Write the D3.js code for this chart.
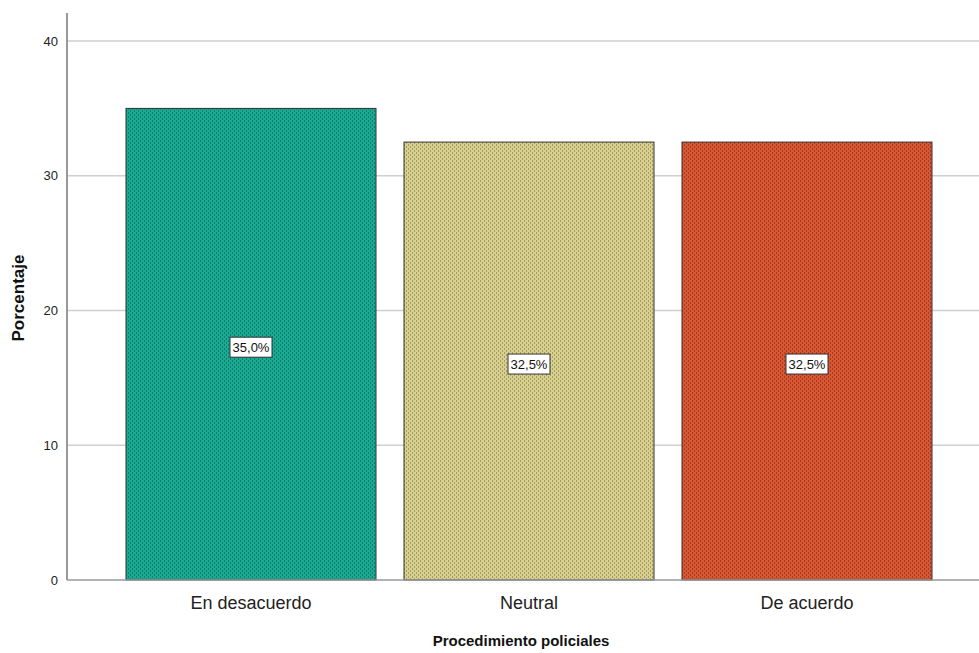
<!DOCTYPE html>
<html lang="es">
<head>
    <meta charset="UTF-8">
    <title>Procedimiento policiales</title>
    <script src="https://d3js.org/d3.v7.min.js"></script>
</head>
<style>
    body {
        margin: 0;
        background: #fff;
    }
    svg {
        display: block;
        font-family: Arial, "Liberation Sans", sans-serif;
    }
</style>
<body>
<div class="chart"></div>
<script>
  /** data */
  var categories = ['En desacuerdo', 'Neutral', 'De acuerdo'];
  var percentages = [35.0, 32.5, 32.5];
  var labels = ['35,0%', '32,5%', '32,5%'];
  var yTicks = [0, 10, 20, 30, 40];

  var baseColors = ['#1aab95', '#d8d08e', '#dc5634'];
  var dotColors = ['#0f7d6b', '#a39b62', '#9c3c22'];

  var width = 979, height = 653;

  var svg = d3.select('.chart').append('svg')
    .attr('width', width)
    .attr('height', height);

  /** scales */
  var x = d3.scaleBand()
    .domain(categories)
    .range([112, 946])
    .paddingInner(28 / 278)
    .paddingOuter(14 / 278);

  var y = d3.scaleLinear()
    .domain([0, 42.08])
    .range([580, 13]);

  /** fill patterns, one per bar */
  var defs = svg.append('defs');
  categories.forEach(function (c, i) {
    var p = defs.append('pattern')
      .attr('id', 'pat' + i)
      .attr('patternUnits', 'userSpaceOnUse')
      .attr('width', 4)
      .attr('height', 4);
    p.append('rect').attr('width', 4).attr('height', 4).attr('fill', baseColors[i]);
    p.append('rect').attr('x', 0).attr('y', 0).attr('width', 1).attr('height', 2).attr('fill', dotColors[i]);
    p.append('rect').attr('x', 2).attr('y', 2).attr('width', 1).attr('height', 2).attr('fill', dotColors[i]);
  });

  /** grid lines */
  svg.append('g')
    .selectAll('line')
    .data(yTicks.filter(function (d) { return d > 0; }))
    .enter().append('line')
    .attr('x1', 67)
    .attr('x2', width)
    .attr('y1', function (d) { return y(d); })
    .attr('y2', function (d) { return y(d); })
    .attr('stroke', '#cfcfcf')
    .attr('stroke-width', 1.5);

  /** y axis */
  var yAxis = svg.append('g')
    .attr('transform', 'translate(67,0)')
    .call(d3.axisLeft(y).tickValues(yTicks).tickSize(0).tickPadding(9));
  yAxis.select('.domain').remove();
  yAxis.selectAll('text')
    .attr('font-size', 13)
    .attr('fill', '#222')
    .attr('font-family', 'Arial, "Liberation Sans", sans-serif');

  svg.append('line')
    .attr('x1', 67).attr('x2', 67)
    .attr('y1', 13).attr('y2', 580)
    .attr('stroke', '#999')
    .attr('stroke-width', 2);

  /** bars */
  svg.append('g')
    .selectAll('rect')
    .data(percentages)
    .enter().append('rect')
    .attr('x', function (d, i) { return x(categories[i]); })
    .attr('y', function (d) { return y(d); })
    .attr('width', x.bandwidth())
    .attr('height', function (d) { return y(0) - y(d); })
    .attr('fill', function (d, i) { return 'url(#pat' + i + ')'; })
    .attr('stroke', '#333')
    .attr('stroke-width', 1);

  /** x axis line */
  svg.append('line')
    .attr('x1', 67).attr('x2', width)
    .attr('y1', 580).attr('y2', 580)
    .attr('stroke', '#999')
    .attr('stroke-width', 1.5);

  /** category labels */
  var xAxis = svg.append('g')
    .attr('transform', 'translate(0,580)')
    .call(d3.axisBottom(x).tickSize(0).tickPadding(16));
  xAxis.select('.domain').remove();
  xAxis.selectAll('text')
    .attr('font-size', 18)
    .attr('fill', '#222')
    .attr('font-family', 'Arial, "Liberation Sans", sans-serif');

  /** value labels in boxes */
  var valueLabel = svg.append('g')
    .selectAll('g')
    .data(percentages)
    .enter().append('g')
    .attr('transform', function (d, i) {
      return 'translate(' + (x(categories[i]) + x.bandwidth() / 2) + ',' + ((y(d) + y(0)) / 2 + 3) + ')';
    });
  valueLabel.append('rect')
    .attr('x', -21)
    .attr('y', -10)
    .attr('width', 42)
    .attr('height', 20)
    .attr('fill', '#fff')
    .attr('stroke', '#333')
    .attr('stroke-width', 1);
  valueLabel.append('text')
    .attr('text-anchor', 'middle')
    .attr('dy', '0.36em')
    .attr('font-size', 13)
    .attr('fill', '#111')
    .text(function (d, i) { return labels[i]; });

  /** axis titles */
  svg.append('text')
    .attr('x', 521)
    .attr('y', 646)
    .attr('text-anchor', 'middle')
    .attr('font-size', 15)
    .attr('font-weight', 'bold')
    .attr('fill', '#111')
    .text('Procedimiento policiales');

  svg.append('text')
    .attr('transform', 'translate(24,298) rotate(-90)')
    .attr('text-anchor', 'middle')
    .attr('font-size', 17)
    .attr('font-weight', 'bold')
    .attr('fill', '#111')
    .text('Porcentaje');
</script>
</body>
</html>
